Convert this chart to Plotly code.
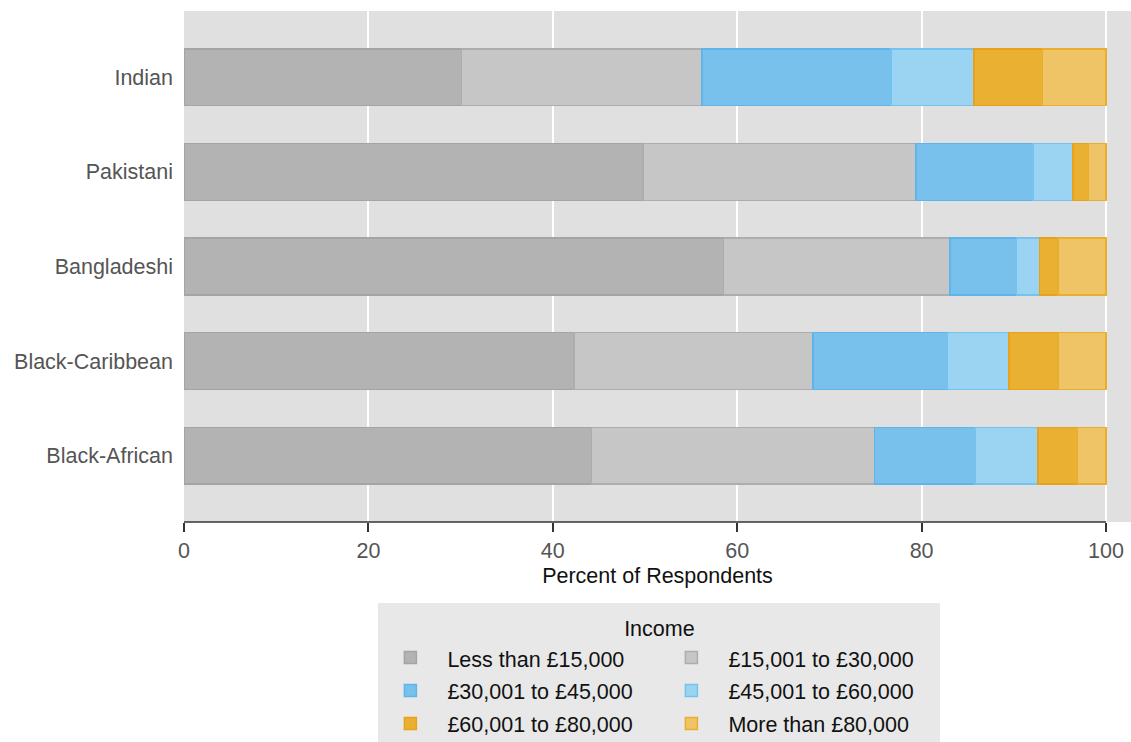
import plotly.graph_objects as go

groups = ["Indian", "Pakistani", "Bangladeshi", "Black-Caribbean", "Black-African"]
income_bands = ["Less than £15,000", "£15,001 to £30,000", "£30,001 to £45,000",
                "£45,001 to £60,000", "£60,001 to £80,000", "More than £80,000"]
less_15k = [30.1, 49.8, 58.5, 42.3, 44.2]
k15_30 = [26.1, 29.6, 24.6, 25.9, 30.7]
k30_45 = [20.5, 12.7, 7.2, 14.6, 10.9]
k45_60 = [9.0, 4.3, 2.5, 6.7, 6.8]
k60_80 = [7.4, 1.7, 2.0, 5.3, 4.3]
more_80k = [6.9, 1.9, 5.2, 5.2, 3.1]
x_ticks = [0, 20, 40, 60, 80, 100]

series = [less_15k, k15_30, k30_45, k45_60, k60_80, more_80k]
fills = ["#b3b3b3", "#c6c6c6", "#79c1ed", "#9bd3f2", "#eab031", "#efc466"]
edges = ["#a4a4a4", "#adadad", "#5fb4ea", "#74c3ee", "#e6a21c", "#eaae2c"]
legend_cols = ["colA", "colB", "colA", "colB", "colA", "colB"]

FONT = "Liberation Sans, Arial, Helvetica, sans-serif"
FS = 21.5

fig = go.Figure()
for name, vals, fc, ec, lg in zip(income_bands, series, fills, edges, legend_cols):
    fig.add_trace(go.Bar(
        y=groups, x=vals, orientation="h",
        name='<span style="font-size:%spx">%s</span>' % (FS, name),
        legendgroup=lg,
        marker=dict(color=fc, line=dict(color=ec, width=1.5)),
        hovertemplate=name + ": %{x}<extra>%{y}</extra>",
    ))

fig.update_layout(
    width=1131, height=742,
    barmode="stack", bargap=0.4,
    margin=dict(l=184, r=0, t=11, b=220, autoexpand=False),
    paper_bgcolor="white", plot_bgcolor="#e0e0e0",
    font=dict(family=FONT, size=FS, color="#555555"),
    showlegend=True,
    legend=dict(
        orientation="h", traceorder="grouped",
        x=0.502, xanchor="center", y=-0.1585, yanchor="top",
        bgcolor="#e8e8e8", borderwidth=0,
        itemwidth=64, indentation=-5, entrywidth=207, entrywidthmode="pixels",
        font=dict(family=FONT, size=23.0, color="#111111"),
        title=dict(text='<span style="font-size:%spx">Income</span>' % FS, side="top center",
                   font=dict(family=FONT, size=25.5, color="#111111")),
        itemclick=False, itemdoubleclick=False,
    ),
    xaxis=dict(
        range=[0, 102.71], tickvals=x_ticks, ticktext=[str(t) for t in x_ticks],
        showgrid=True, gridcolor="white", gridwidth=1.5,
        zeroline=False, showline=False,
        ticks="outside", ticklen=9, tickwidth=1.5, tickcolor="#333333",
        tickfont=dict(size=FS, color="#555555"),
        title=dict(text="Percent of Respondents", standoff=6,
                   font=dict(size=FS, color="#111111")),
        fixedrange=True,
    ),
    yaxis=dict(
        categoryorder="array", categoryarray=groups,
        range=[4.7, -0.7],
        showgrid=False, zeroline=False, showline=False, ticks="",
        ticklabelstandoff=10,
        tickfont=dict(size=FS, color="#555555"),
        fixedrange=True,
    ),
    shapes=[dict(type="line", xref="x", yref="paper",
                 x0=x_ticks[0], x1=x_ticks[-1], y0=0, y1=0,
                 line=dict(color="#333333", width=1.5), layer="above")],
)

# remove the default 8px page margin so the 1131x742 figure fills the window exactly
fig.write_html("out.html", config={"displayModeBar": False},
               post_script="document.body.style.margin='0';")
